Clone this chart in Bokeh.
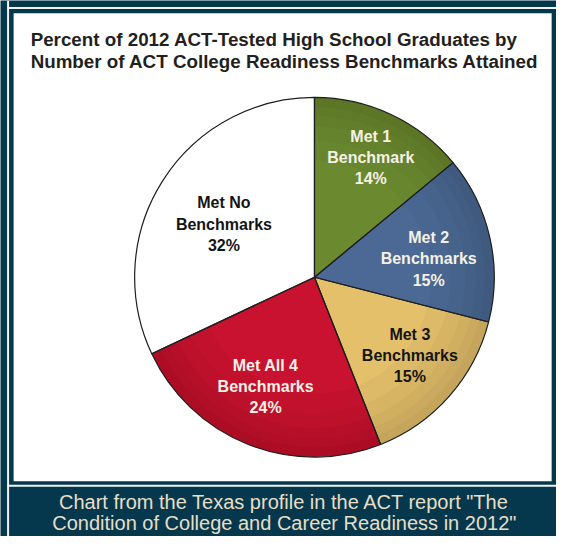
import math
from bokeh.plotting import figure
from bokeh.models import Range1d
from bokeh.core.properties import value
from bokeh.embed import file_html
from bokeh.resources import INLINE

# ---- data ----
categories = ["Met 1\nBenchmark", "Met 2\nBenchmarks", "Met 3\nBenchmarks",
              "Met All 4\nBenchmarks", "Met No\nBenchmarks"]
percents = [14, 15, 15, 24, 32]
slice_colors = ["#6b8a30", "#4b6994", "#e4c06a", "#c8122f", "#ffffff"]
label_colors = ["#f6f1e6", "#f6f1e6", "#141414", "#f6f1e6", "#141414"]
title_lines = ["Percent of 2012 ACT-Tested High School Graduates by",
               "Number of ACT College Readiness Benchmarks Attained"]
caption_lines = ["Chart from the Texas profile in the ACT report \"The",
                 "Condition of College and Career Readiness in 2012\""]

# ---- layout: reference frame is 572 x 552 (data y = H - pixel y), drawn at 556 x 536 ----
W, H = 572, 552
BG = "#06384d"
cx, cy, R = 323, H - 285, 185
label_r = [136, 119, 127, 123, 108]
label_dang = [0, -3.5, 2, -2.5, 2]

p = figure(width=556, height=536, x_range=Range1d(0, W), y_range=Range1d(0, H),
           output_backend="svg", toolbar_location=None, min_border=0,
           background_fill_color=BG, border_fill_color=BG, outline_line_color=None)
p.axis.visible = False
p.grid.visible = False

# frame
p.quad(left=[13.5], right=[567], bottom=[H - 495], top=[H - 13.2], fill_color="white", line_color=None)
p.segment(x0=[7.8, 7, 7], y0=[0, H - 7.8, H - 499.8], x1=[7.8, W, W], y1=[H, H - 7.8, H - 499.8],
          line_color="#f2f2f2", line_width=2)

# pie
total = sum(percents)
starts, ends, mids = [], [], []
acc = 0
for v in percents:
    a0 = math.pi / 2 - 2 * math.pi * acc / total
    acc += v
    a1 = math.pi / 2 - 2 * math.pi * acc / total
    starts.append(a0)
    ends.append(a1)
    mids.append((a0 + a1) / 2)

p.wedge(x=cx, y=cy, radius=R, start_angle=starts, end_angle=ends, direction="clock",
        fill_color=slice_colors, line_color=None)

# soft rim shading on the coloured slices
for r_in in [120, 140, 155, 166, 175]:
    p.annular_wedge(x=cx, y=cy, inner_radius=r_in, outer_radius=R,
                    start_angle=starts[:4], end_angle=ends[:4], direction="clock",
                    fill_color="black", fill_alpha=0.028, line_color=None)

p.wedge(x=cx, y=cy, radius=R, start_angle=starts, end_angle=ends, direction="clock",
        fill_color=None, line_color="#1e1e1e", line_width=1.2)

lx = [cx + r * math.cos(m + math.radians(d)) for r, m, d in zip(label_r, mids, label_dang)]
ly = [cy + r * math.sin(m + math.radians(d)) for r, m, d in zip(label_r, mids, label_dang)]
ltext = [f"{c}\n{v}%" for c, v in zip(categories, percents)]
p.text(x=lx, y=ly, text=ltext, text_color=label_colors, text_align="center",
       text_baseline="middle", text_font=value("Liberation Sans"), text_font_style="bold",
       text_font_size="16px", text_line_height=1.25)

# title
p.text(x=[31, 31], y=[H - 40, H - 63], text=title_lines, text_color="#231f20",
       text_align="left", text_baseline="middle",
       text_font=value("Liberation Sans"), text_font_style="bold", text_font_size="18.8px")

# caption
p.text(x=[292, 292], y=[H - 516.5, H - 538.5], text=caption_lines, text_color="#e8dfc6",
       text_align="center", text_baseline="middle",
       text_font=value("Liberation Sans"), text_font_size="20px")

open("out.html", "w").write(file_html(p, INLINE))
